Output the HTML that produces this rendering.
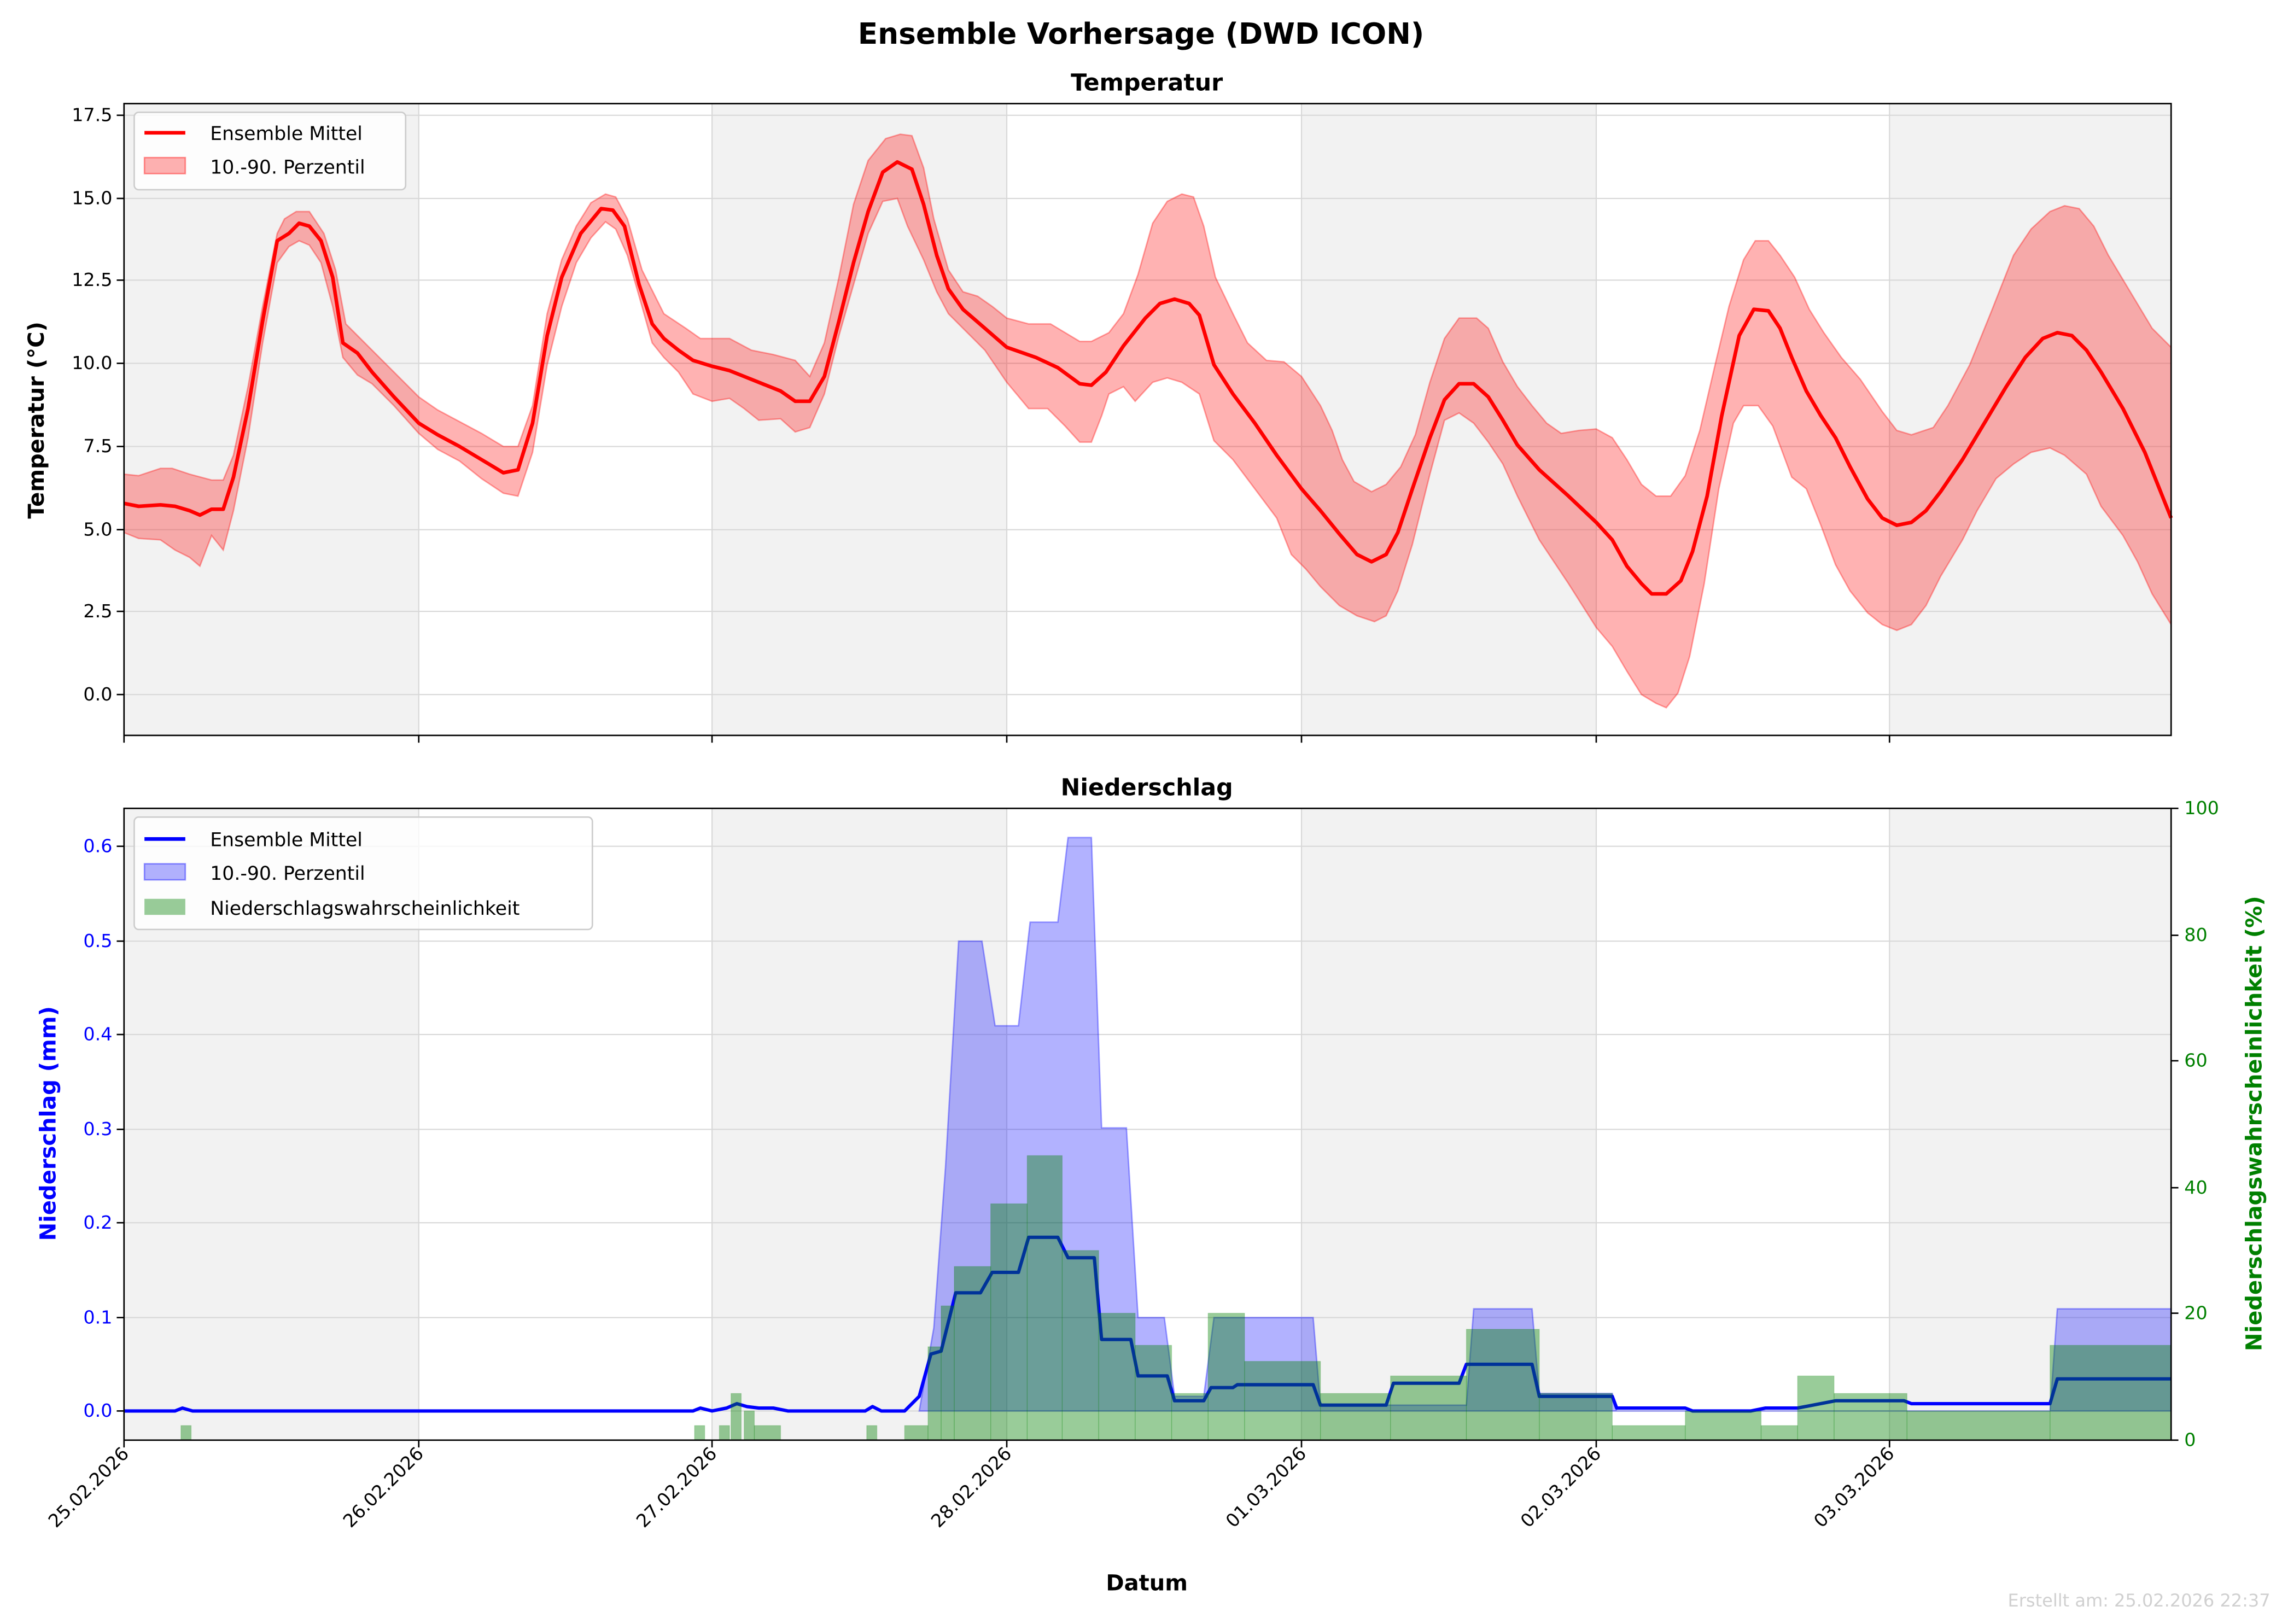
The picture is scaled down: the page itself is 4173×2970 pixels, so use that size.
<!DOCTYPE html>
<html><head><meta charset="utf-8"><style>html,body{margin:0;padding:0;background:#fff}svg{display:block}</style></head><body>
<svg width="4173" height="2970" viewBox="0 0 1564 1113" preserveAspectRatio="none" xmlns="http://www.w3.org/2000/svg" font-family="'DejaVu Sans','Liberation Sans',sans-serif">
<rect width="1564" height="1113" fill="#fff"/>
<text x="782" y="30" font-size="20" font-weight="bold" text-anchor="middle">Ensemble Vorhersage (DWD ICON)</text>
<!-- TOP -->
<text x="786" y="62" font-size="16" font-weight="bold" text-anchor="middle">Temperatur</text>
<g fill="#f2f2f2"><rect x="85" y="71" width="202" height="433"/><rect x="488" y="71" width="202" height="433"/><rect x="892" y="71" width="202" height="433"/><rect x="1295" y="71" width="193" height="433"/></g>
<g stroke="#d8d8d8" stroke-width="0.8"><line x1="85" x2="1488" y1="79" y2="79"/><line x1="85" x2="1488" y1="136" y2="136"/><line x1="85" x2="1488" y1="192" y2="192"/><line x1="85" x2="1488" y1="249" y2="249"/><line x1="85" x2="1488" y1="306" y2="306"/><line x1="85" x2="1488" y1="363" y2="363"/><line x1="85" x2="1488" y1="419" y2="419"/><line x1="85" x2="1488" y1="476" y2="476"/>
<line x1="287" x2="287" y1="71" y2="504"/><line x1="488" x2="488" y1="71" y2="504"/><line x1="690" x2="690" y1="71" y2="504"/><line x1="892" x2="892" y1="71" y2="504"/><line x1="1094" x2="1094" y1="71" y2="504"/><line x1="1295" x2="1295" y1="71" y2="504"/></g>
<polygon fill="rgba(255,0,0,0.3)" stroke="rgba(255,0,0,0.35)" stroke-width="1" points="85,325 95,326 110,321 118,321 130,325 145,329 153,329 160,312 170,265 180,210 190,160 195,150 203,145 212,145 222,160 230,185 237,222 245,230 255,240 270,255 287,272 300,281 315,289 330,297 345,306 355,306 365,278 375,215 385,178 395,155 405,139 415,133 422,135 430,150 440,185 455,215 470,225 480,232 500,232 515,240 530,243 545,247 555,258 565,235 575,190 585,140 595,110 607,95 617,92 625,93 633,115 640,150 650,185 660,200 670,203 680,210 690,218 705,222 720,222 730,228 740,234 748,234 760,228 770,215 780,188 790,153 800,138 810,133 818,135 825,155 833,190 845,215 855,235 868,247 880,248 892,258 905,278 913,295 920,315 928,330 940,337 950,332 960,320 970,298 980,262 990,232 1000,218 1012,218 1020,225 1030,248 1040,265 1050,278 1060,290 1070,297 1082,295 1094,294 1105,300 1115,315 1125,332 1135,340 1145,340 1155,326 1165,295 1175,252 1185,210 1195,178 1203,165 1212,165 1220,175 1230,190 1240,212 1250,228 1262,245 1275,260 1290,282 1300,295 1310,298 1325,293 1335,278 1350,250 1365,213 1380,175 1392,157 1405,145 1415,141 1425,143 1435,155 1445,175 1460,200 1475,225 1488,238 1488,428 1475,407 1465,385 1455,367 1440,347 1430,325 1415,312 1405,307 1392,310 1380,318 1368,328 1355,350 1345,370 1330,395 1320,415 1310,428 1300,432 1290,428 1280,420 1268,405 1258,387 1248,360 1238,335 1228,327 1215,292 1205,278 1195,278 1188,290 1178,335 1168,400 1158,450 1150,475 1142,485 1135,482 1125,476 1115,460 1105,443 1094,430 1075,400 1055,370 1040,340 1030,318 1020,303 1010,290 1000,283 990,288 980,325 968,373 958,405 950,422 942,426 930,422 918,415 905,402 895,390 885,380 875,355 860,335 845,315 832,302 822,270 810,262 800,259 790,262 778,275 770,265 760,270 755,285 748,303 740,303 730,292 718,280 705,280 690,262 675,240 660,225 650,215 642,200 633,178 622,155 615,136 605,138 595,160 585,195 575,230 565,270 555,293 545,296 535,287 520,288 510,280 500,273 488,275 475,270 465,255 455,245 447,235 440,210 430,175 422,157 415,152 405,163 395,180 385,210 375,250 365,310 355,340 345,338 330,328 315,316 300,308 287,297 270,278 255,263 245,257 235,245 228,210 220,180 212,168 205,165 198,169 190,180 180,235 170,300 160,350 153,377 145,367 137,388 130,382 120,377 110,370 95,369 85,365"/>
<polyline fill="none" stroke="#ff0000" stroke-width="2.5" stroke-linejoin="round" points="85,345 95,347 110,346 120,347 130,350 137,353 145,349 153,349 160,327 170,280 180,220 190,165 198,160 205,153 212,155 220,165 228,190 235,235 245,242 255,255 270,272 287,290 300,298 315,306 330,315 345,324 355,322 365,290 375,230 385,190 398,160 412,143 420,144 428,155 438,195 447,222 455,232 465,240 475,247 488,251 500,254 510,258 520,262 535,268 545,275 555,275 565,258 575,220 585,180 595,145 605,118 615,111 625,116 633,140 642,175 650,198 660,212 675,225 690,238 710,245 725,252 740,263 748,264 758,255 770,237 785,218 795,208 805,205 815,208 822,216 832,250 845,270 860,290 875,312 892,335 905,350 918,366 930,380 940,385 950,380 958,365 968,335 980,300 990,274 1000,263 1010,263 1020,272 1030,288 1040,305 1055,322 1075,340 1094,358 1105,370 1115,388 1125,400 1132,407 1142,407 1152,398 1160,378 1170,340 1180,285 1192,230 1202,212 1212,213 1220,225 1228,245 1238,268 1248,285 1258,300 1268,320 1280,342 1290,355 1300,360 1310,358 1320,350 1330,337 1345,315 1360,290 1375,265 1388,245 1400,232 1410,228 1420,230 1430,240 1440,255 1455,280 1470,310 1480,335 1488,355"/>
<rect x="85" y="71" width="1403" height="433" fill="none" stroke="#000" stroke-width="1"/>
<g stroke="#000" stroke-width="1"><line x1="80" x2="85" y1="79" y2="79"/><line x1="80" x2="85" y1="136" y2="136"/><line x1="80" x2="85" y1="192" y2="192"/><line x1="80" x2="85" y1="249" y2="249"/><line x1="80" x2="85" y1="306" y2="306"/><line x1="80" x2="85" y1="363" y2="363"/><line x1="80" x2="85" y1="419" y2="419"/><line x1="80" x2="85" y1="476" y2="476"/>
<line x1="85" x2="85" y1="504" y2="509"/><line x1="287" x2="287" y1="504" y2="509"/><line x1="488" x2="488" y1="504" y2="509"/><line x1="690" x2="690" y1="504" y2="509"/><line x1="892" x2="892" y1="504" y2="509"/><line x1="1094" x2="1094" y1="504" y2="509"/><line x1="1295" x2="1295" y1="504" y2="509"/></g>
<g font-size="12.5" text-anchor="end"><text x="77" y="83">17.5</text><text x="77" y="140">15.0</text><text x="77" y="196">12.5</text><text x="77" y="253">10.0</text><text x="77" y="310">7.5</text><text x="77" y="367">5.0</text><text x="77" y="423">2.5</text><text x="77" y="480">0.0</text></g>
<text transform="translate(30,288) rotate(-90)" font-size="15" font-weight="bold" text-anchor="middle">Temperatur (°C)</text>
<rect x="92" y="77" width="186" height="53" rx="3" fill="#fff" fill-opacity="0.8" stroke="#ccc"/>
<line x1="99" x2="127" y1="91" y2="91" stroke="#f00" stroke-width="2.5"/>
<rect x="99" y="108" width="28" height="11" fill="rgba(255,0,0,0.3)" stroke="rgba(255,0,0,0.4)"/>
<g font-size="13"><text x="144" y="96">Ensemble Mittel</text><text x="144" y="119">10.-90. Perzentil</text></g>
<!-- BOTTOM -->
<text x="786" y="545" font-size="16" font-weight="bold" text-anchor="middle">Niederschlag</text>
<g fill="#f2f2f2"><rect x="85" y="554" width="202" height="433"/><rect x="488" y="554" width="202" height="433"/><rect x="892" y="554" width="202" height="433"/><rect x="1295" y="554" width="193" height="433"/></g>
<g stroke="#d8d8d8" stroke-width="0.8"><line x1="85" x2="1488" y1="580" y2="580"/><line x1="85" x2="1488" y1="645" y2="645"/><line x1="85" x2="1488" y1="709" y2="709"/><line x1="85" x2="1488" y1="774" y2="774"/><line x1="85" x2="1488" y1="838" y2="838"/><line x1="85" x2="1488" y1="903" y2="903"/><line x1="85" x2="1488" y1="967" y2="967"/>
<line x1="287" x2="287" y1="554" y2="987"/><line x1="488" x2="488" y1="554" y2="987"/><line x1="690" x2="690" y1="554" y2="987"/><line x1="892" x2="892" y1="554" y2="987"/><line x1="1094" x2="1094" y1="554" y2="987"/><line x1="1295" x2="1295" y1="554" y2="987"/></g>
<polygon fill="rgba(0,0,255,0.3)" stroke="rgba(0,0,255,0.35)" points="630,967 640,910 648,800 657,645 673,645 682,703 698,703 706,632 725,632 732,574 748,574 755,773 772,773 780,903 798,903 805,957 825,957 832,903 900,903 905,963 1005,963 1010,897 1050,897 1055,955 1105,955 1108,967 1405,967 1410,897 1488,897 1488,967"/>
<polyline fill="none" stroke="#0000ff" stroke-width="2.3" stroke-linejoin="round" points="85,967 120,967 125,965 132,967 475,967 480,965 488,967 498,965 505,962 512,964 520,965 530,965 540,967 593,967 598,964 604,967 612,967 620,967 630,957 638,928 645,926 655,886 672,886 680,872 698,872 705,848 725,848 732,862 750,862 755,918 775,918 780,943 800,943 805,960 825,960 830,951 845,951 848,949 900,949 905,963 950,963 955,948 1000,948 1005,935 1050,935 1055,957 1105,957 1108,965 1155,965 1160,967 1200,967 1210,965 1232,965 1258,960 1305,960 1310,962 1405,962 1410,945 1488,945"/>
<g fill="rgba(0,128,0,0.4)" stroke="rgba(0,128,0,0.2)" stroke-width="0.5">
<rect x="124" y="977" width="7" height="10"/><rect x="476" y="977" width="7" height="10"/><rect x="493" y="977" width="7" height="10"/><rect x="501" y="955" width="7" height="32"/><rect x="510" y="967" width="7" height="20"/><rect x="517" y="977" width="18" height="10"/><rect x="594" y="977" width="7" height="10"/><rect x="620" y="977" width="16" height="10"/>
<rect x="636" y="923" width="9" height="64"/><rect x="645" y="895" width="9" height="92"/><rect x="654" y="868" width="25" height="119"/><rect x="679" y="825" width="25" height="162"/><rect x="704" y="792" width="24" height="195"/><rect x="728" y="857" width="25" height="130"/><rect x="753" y="900" width="25" height="87"/><rect x="778" y="922" width="25" height="65"/><rect x="803" y="955" width="25" height="32"/><rect x="828" y="900" width="25" height="87"/><rect x="853" y="933" width="52" height="54"/><rect x="905" y="955" width="48" height="32"/><rect x="953" y="943" width="52" height="44"/><rect x="1005" y="911" width="50" height="76"/><rect x="1055" y="955" width="50" height="32"/><rect x="1105" y="977" width="50" height="10"/><rect x="1155" y="967" width="52" height="20"/><rect x="1207" y="977" width="25" height="10"/><rect x="1232" y="943" width="25" height="44"/><rect x="1257" y="955" width="50" height="32"/><rect x="1307" y="967" width="98" height="20"/><rect x="1405" y="922" width="83" height="65"/>
</g>
<rect x="85" y="554" width="1403" height="433" fill="none" stroke="#000" stroke-width="1"/>
<g stroke="#000" stroke-width="1"><line x1="80" x2="85" y1="580" y2="580"/><line x1="80" x2="85" y1="645" y2="645"/><line x1="80" x2="85" y1="709" y2="709"/><line x1="80" x2="85" y1="774" y2="774"/><line x1="80" x2="85" y1="838" y2="838"/><line x1="80" x2="85" y1="903" y2="903"/><line x1="80" x2="85" y1="967" y2="967"/>
<line x1="1488" x2="1493" y1="554" y2="554"/><line x1="1488" x2="1493" y1="641" y2="641"/><line x1="1488" x2="1493" y1="727" y2="727"/><line x1="1488" x2="1493" y1="814" y2="814"/><line x1="1488" x2="1493" y1="900" y2="900"/><line x1="1488" x2="1493" y1="987" y2="987"/>
<line x1="85" x2="85" y1="987" y2="992"/><line x1="287" x2="287" y1="987" y2="992"/><line x1="488" x2="488" y1="987" y2="992"/><line x1="690" x2="690" y1="987" y2="992"/><line x1="892" x2="892" y1="987" y2="992"/><line x1="1094" x2="1094" y1="987" y2="992"/><line x1="1295" x2="1295" y1="987" y2="992"/></g>
<g font-size="12.5" text-anchor="end" fill="#0000ff"><text x="77" y="584">0.6</text><text x="77" y="649">0.5</text><text x="77" y="713">0.4</text><text x="77" y="778">0.3</text><text x="77" y="842">0.2</text><text x="77" y="907">0.1</text><text x="77" y="971">0.0</text></g>
<g font-size="12.5" fill="#008000"><text x="1497" y="558">100</text><text x="1497" y="645">80</text><text x="1497" y="731">60</text><text x="1497" y="818">40</text><text x="1497" y="904">20</text><text x="1497" y="991">0</text></g>
<text transform="translate(38,770) rotate(-90)" font-size="15" font-weight="bold" text-anchor="middle" fill="#0000ff">Niederschlag (mm)</text>
<text transform="translate(1550,770) rotate(-90)" font-size="15" font-weight="bold" text-anchor="middle" fill="#008000">Niederschlagswahrscheinlichkeit (%)</text>
<rect x="92" y="560" width="314" height="77" rx="3" fill="#fff" fill-opacity="0.8" stroke="#ccc"/>
<line x1="99" x2="127" y1="575" y2="575" stroke="#00f" stroke-width="2.5"/>
<rect x="99" y="592" width="28" height="11" fill="rgba(0,0,255,0.3)" stroke="rgba(0,0,255,0.4)"/>
<rect x="99" y="616" width="28" height="11" fill="rgba(0,128,0,0.4)"/>
<g font-size="13"><text x="144" y="580">Ensemble Mittel</text><text x="144" y="603">10.-90. Perzentil</text><text x="144" y="627">Niederschlagswahrscheinlichkeit</text></g>
<g font-size="12.5" text-anchor="end">
<text transform="translate(89,997) rotate(-45)">25.02.2026</text><text transform="translate(291,997) rotate(-45)">26.02.2026</text><text transform="translate(492,997) rotate(-45)">27.02.2026</text><text transform="translate(694,997) rotate(-45)">28.02.2026</text><text transform="translate(896,997) rotate(-45)">01.03.2026</text><text transform="translate(1098,997) rotate(-45)">02.03.2026</text><text transform="translate(1299,997) rotate(-45)">03.03.2026</text></g>
<text x="786" y="1090" font-size="15" font-weight="bold" text-anchor="middle">Datum</text>
<text x="1556" y="1101" font-size="12" text-anchor="end" fill="#d0d0d0">Erstellt am: 25.02.2026 22:37</text>
</svg>
</body></html>
